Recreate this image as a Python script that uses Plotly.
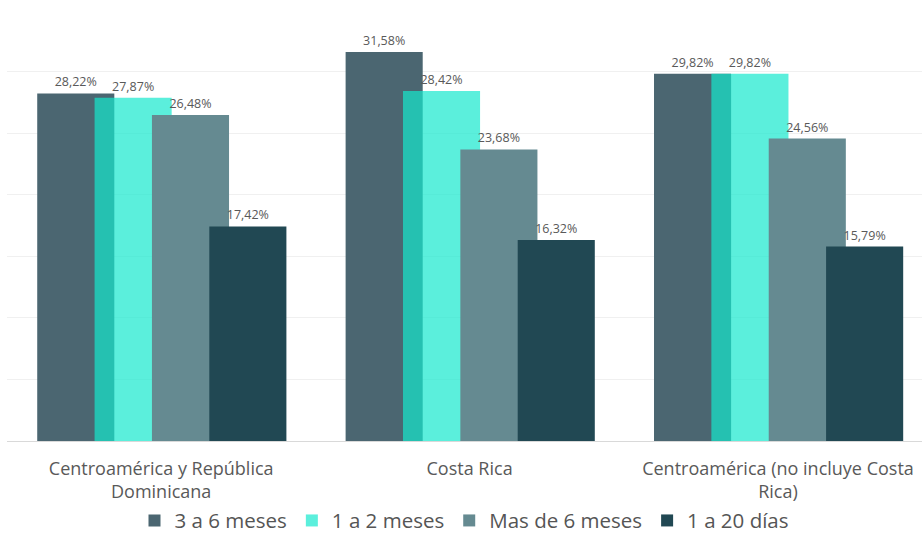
import plotly.graph_objects as go

categories = ["Centroamérica y República<br>Dominicana", "Costa Rica", "Centroamérica (no incluye Costa<br>Rica)"]
series_names = ["3 a 6 meses", "1 a 2 meses", "Mas de 6 meses", "1 a 20 días"]
v_3a6 = [28.22, 31.58, 29.82]
v_1a2 = [27.87, 28.42, 29.82]
v_mas6 = [26.48, 23.68, 24.56]
v_1a20 = [17.42, 16.32, 15.79]

series_values = [v_3a6, v_1a2, v_mas6, v_1a20]
colors = ["#4b6671", "rgba(22,232,205,0.7)", "#658a91", "#214853"]
offsets = [-0.402, -0.216, -0.030, 0.156]

FONT = "Open Sans"

fig = go.Figure()
for name, vals, col, off in zip(series_names, series_values, colors, offsets):
    fig.add_trace(go.Bar(
        x=categories, y=vals, name=name,
        marker=dict(color=col, line=dict(width=0)),
        width=0.25, offset=off,
        texttemplate="%{y:.2f}%", textposition="outside",
        constraintext="none", cliponaxis=False,
        textfont=dict(family=FONT, size=12.5, color="#595959"),
    ))

fig.update_layout(
    barmode="overlay",
    separators=",.",
    width=922, height=537,
    margin=dict(l=7, r=0, t=9, b=96, autoexpand=False),
    paper_bgcolor="white", plot_bgcolor="white",
    font=dict(family=FONT, color="#595959"),
    showlegend=True,
    legend=dict(orientation="h", x=0.5, xanchor="center", y=-0.138, yanchor="top",
                font=dict(family=FONT, size=20.5, color="#555555"),
                itemwidth=30, tracegroupgap=0),
    xaxis=dict(type="category", range=[-0.5, 2.467], showline=True, linecolor="#d9d9d9",
               linewidth=1, ticks="", ticklabelstandoff=11, automargin=False,
               tickfont=dict(family=FONT, size=18, color="#595959"),
               showgrid=False),
    yaxis=dict(range=[0, 35.08], dtick=5, showgrid=True, gridcolor="#f0f0f0", gridwidth=1,
               showticklabels=False, zeroline=False, showline=False, automargin=False),
)

fig.write_html("out.html", config={"displayModeBar": False},
               post_script="document.body.style.margin='0';document.body.style.overflow='hidden';")
